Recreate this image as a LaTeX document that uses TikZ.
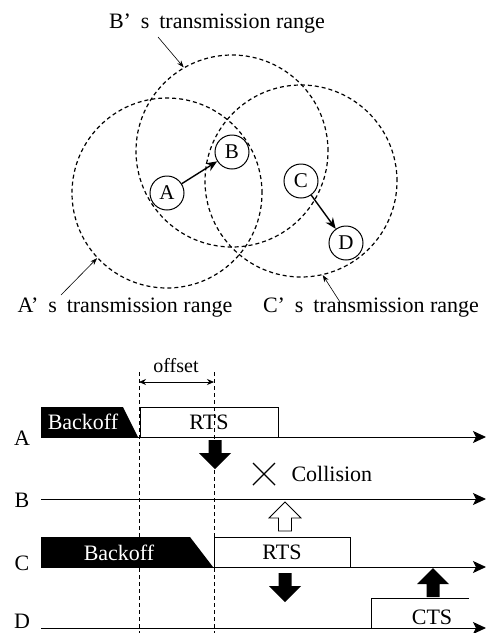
\documentclass[tikz,border=0pt]{standalone}
\usepackage{fontspec}
\setmainfont{Liberation Serif}
\usetikzlibrary{arrows.meta}

\newcommand{\bigfont}{\fontsize{22}{24}\selectfont}
\newcommand{\gap}{\hspace{0.45em}}

\tikzset{
	station/.style={circle,draw,line width=1pt,fill=white,inner sep=0pt,
		minimum size=34pt,font=\fontsize{21}{21}\selectfont},
	txrange/.style={circle,draw,line width=1.2pt,dash pattern=on 4pt off 3pt,inner sep=0pt},
	pointer/.style={line width=0.6pt,-{Stealth[length=7pt,width=5pt]}},
	link/.style={line width=1.4pt,-{Stealth[length=11pt,width=9pt]}},
	timeline/.style={line width=1pt,-{Stealth[length=13pt,width=12pt,inset=3pt]}},
	guide/.style={line width=0.6pt,dash pattern=on 4pt off 3pt},
	frame/.style={draw,line width=1pt,minimum height=30pt,inner sep=0pt,font=\bigfont},
	fatarrow/.pic={\path[pic actions] (-6.5,0) -- (6.5,0) -- (6.5,13) -- (16,13)
		-- (0,29) -- (-16,13) -- (-6.5,13) -- cycle;}
}

\begin{document}
\begin{tikzpicture}[x=1pt,y=-1pt,>=Stealth]
	\useasboundingbox (0,0) rectangle (486,633);

	% transmission ranges
	\node[txrange,minimum size=190pt] (rngA) at (167,193) {};
	\node[txrange,minimum size=192pt] (rngB) at (232,151) {};
	\node[txrange,minimum size=192pt] (rngC) at (301,181) {};

	% stations
	\node[station] (A) at (167,193) {A};
	\node[station] (B) at (232,152) {B};
	\node[station] (C) at (301,181) {C};
	\node[station] (D) at (346,243) {D};
	\draw[link] (A) -- (B);
	\draw[link] (C) -- (D);

	% range labels
	\node[font=\bigfont] (txtB) at (217,24) {B’\gap s\gap transmission range};
	\node[font=\bigfont] (txtA) at (125,308) {A’\gap s\gap transmission range};
	\node[font=\bigfont] (txtC) at (371,308) {C’\gap s\gap transmission range};
	\coordinate (fromB) at (158,37);
	\coordinate (fromA) at (61,295);
	\coordinate (fromC) at (340,302);
	\draw[pointer] (fromB) -- (rngB.120);
	\draw[pointer] (fromA) -- (rngA.223);
	\draw[pointer] (fromC) -- (rngC.283);

	% timing rows
	\node[font=\bigfont] (rowA) at (22,438) {A};
	\node[font=\bigfont] (rowB) at (22,500) {B};
	\node[font=\bigfont] (rowC) at (22,563) {C};
	\node[font=\bigfont] (rowD) at (22,621) {D};
	\coordinate (a0) at (41,437); \coordinate (a1) at (486,437);
	\coordinate (b0) at (41,499); \coordinate (b1) at (486,499);
	\coordinate (c0) at (41,567); \coordinate (c1) at (486,567);
	\coordinate (d0) at (41,628); \coordinate (d1) at (486,628);
	\draw[timeline] (a0) -- (a1);
	\draw[timeline] (b0) -- (b1);
	\draw[timeline] (c0) -- (c1);
	\draw[timeline] (d0) -- (d1);

	% offset guides
	\coordinate (g1) at (139,372); \coordinate (g1b) at (139,633);
	\coordinate (g2) at (214,372); \coordinate (g2b) at (214,633);
	\draw[guide] (g1) -- (g1b);
	\draw[guide] (g2) -- (g2b);
	\draw[line width=0.8pt,{Stealth[length=7pt,width=6pt]}-{Stealth[length=7pt,width=6pt]}]
		(139,382) -- (214,382);
	\node[font=\fontsize{20}{20}\selectfont] (offs) at (176,366) {offset};

	% backoff and frames
	\fill (41,407) -- (123,407) -- (138,437) -- (41,437) -- cycle;
	\node[font=\bigfont,text=white] (bkA) at (83,422) {Backoff};
	\node[frame,minimum width=138pt] (rtsA) at (209,422) {RTS};
	\fill (41,537) -- (190,537) -- (213,567) -- (41,567) -- cycle;
	\node[font=\bigfont,text=white] (bkC) at (119,553) {Backoff};
	\node[frame,minimum width=136pt] (rtsC) at (282,552) {RTS};
	\draw[line width=1pt] (469,598) -- (371,598) -- (371,628);
	\node[font=\bigfont] (cts) at (432,617) {CTS};

	% signal arrows
	\pic[fill=black] at (215,440) {fatarrow};
	\pic[draw,line width=0.8pt,fill=white,rotate=180] at (285,531) {fatarrow};
	\pic[fill=black] at (285,573) {fatarrow};
	\pic[fill=black,rotate=180] at (433,597) {fatarrow};

	% collision
	\draw[line width=1.4pt] (253,463) -- (275,485) (253,485) -- (275,463);
	\node[font=\bigfont,anchor=west] (coll) at (288,474) {Collision};
\end{tikzpicture}
\end{document}
